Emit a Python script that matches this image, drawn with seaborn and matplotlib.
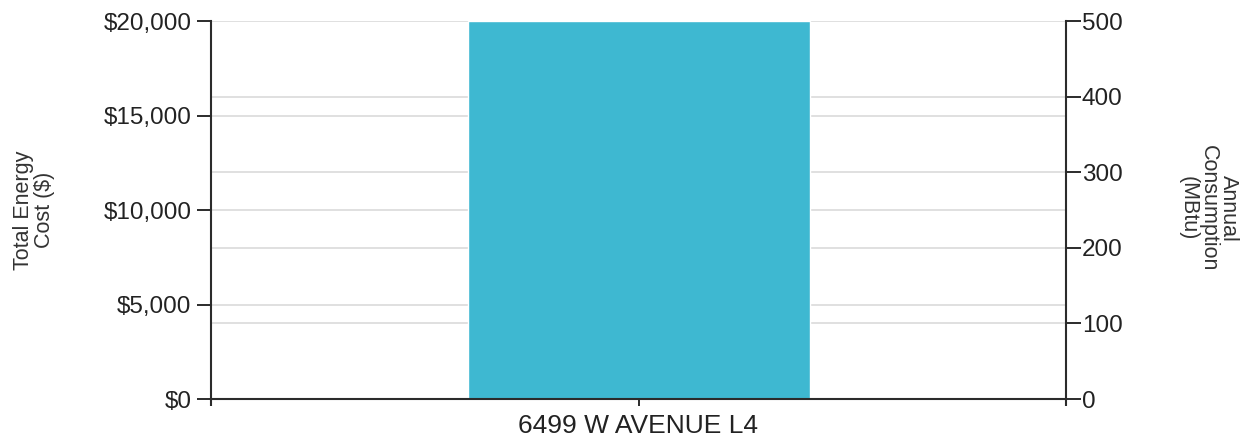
import matplotlib
matplotlib.use("Agg")
import matplotlib.pyplot as plt
import seaborn as sns
import pandas as pd

categories = ["6499 W AVENUE L4"]
cost_values = [20000]
cost_ticks = [0, 5000, 10000, 15000, 20000]
consumption_ticks = [0, 100, 200, 300, 400, 500]

sns.set_theme(style="white")
plt.rcParams['font.family'] = ['Liberation Sans', 'DejaVu Sans']

df = pd.DataFrame({"site": categories, "cost": cost_values})

fig = plt.figure(figsize=(12.43, 4.44), dpi=100)
ax = fig.add_axes([211/1243, 1-399/444, (1066-211)/1243, (399-21)/444])
ax2 = ax.twinx()

grid_col = "#e0e0e0"
ax.set_ylim(0, 20000)
ax2.set_ylim(0, 500)
for t in cost_ticks:
    ax.axhline(t, color=grid_col, lw=1.4, zorder=0)
for t in consumption_ticks:
    ax.axhline(t * 20000 / 500, color=grid_col, lw=1.4, zorder=0)

sns.barplot(data=df, x="site", y="cost", ax=ax, color="#3EB8D1", width=0.4,
            saturation=1, zorder=2)
ax.set_xlim(-0.5, 0.5)
ax.set_ylim(0, 20000)
ax.set_xticks([-0.5, 0.5], minor=True)

ax.set_yticks(cost_ticks)
ax.set_yticklabels([f"${v:,.0f}" for v in cost_ticks])
ax2.set_yticks(consumption_ticks)
ax2.set_yticklabels([str(v) for v in consumption_ticks])

for a in (ax, ax2):
    for s in a.spines.values():
        s.set_visible(False)
ax.spines['left'].set_visible(True)
ax.spines['bottom'].set_visible(True)
ax2.spines['right'].set_visible(True)
dark = "#2b2b2b"
for s in (ax.spines['left'], ax.spines['bottom'], ax2.spines['right']):
    s.set_color(dark)
    s.set_linewidth(1.5)

ax.tick_params(axis='y', left=True, length=10, width=1.4, color=dark,
               labelsize=17.5, labelcolor="#222222", pad=4)
ax.tick_params(axis='x', which='major', bottom=True, length=5, width=1.4, color=dark,
               labelsize=19, labelcolor="#222222", pad=6)
ax.tick_params(axis='x', which='minor', bottom=True, length=5, width=1.5, color=dark)
ax2.tick_params(axis='y', right=True, length=11, width=1.4, color=dark,
                labelsize=17.5, labelcolor="#222222", pad=0.5)

ax.set_xlabel("")
ax.set_ylabel("")
ax2.set_ylabel("")
fig.text(34/1243, 1-210/444, "Total Energy\nCost ($)", rotation=90, ha="center",
         va="center", multialignment="center", fontsize=15.5, color="#333333",
         linespacing=1.0)
fig.text(1208/1243, 1-208/444, "Annual\nConsumption\n(MBtu)", rotation=270,
         ha="center", va="center", multialignment="center", fontsize=15.5,
         color="#333333", linespacing=0.95)

fig.savefig("out.png", dpi=100)
